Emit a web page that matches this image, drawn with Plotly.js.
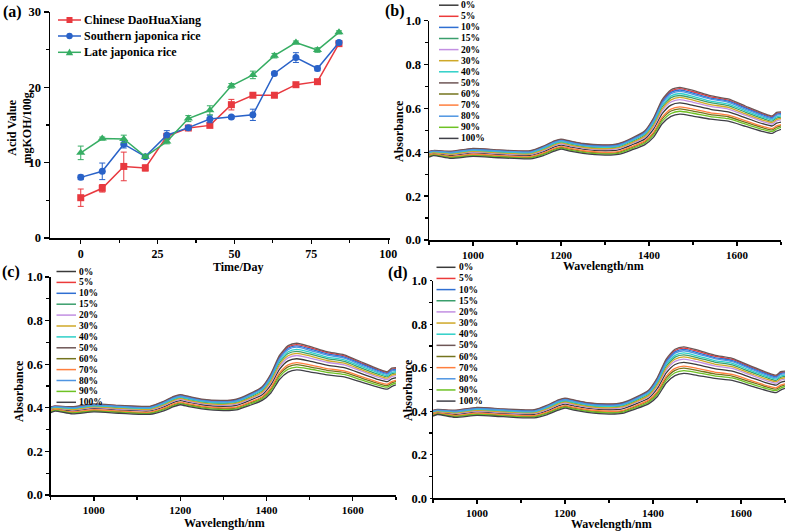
<!DOCTYPE html>
<html>
<head>
<meta charset="utf-8">
<script src="https://cdn.plot.ly/plotly-3.0.1.min.js"></script>
<style>html,body{margin:0;padding:0;background:#fff}#chart{width:788px;height:531px}</style>
</head>
<body>
<div id="chart"></div>
<script>
// ---------- Panel (a) data ----------
const days = [0, 7, 14, 21, 28, 35, 42, 49, 56, 63, 70, 77, 84];
const dhxAcid = [5.35, 6.6, 9.5, 9.3, 13.5, 14.6, 14.95, 17.7, 18.95, 18.95, 20.35, 20.75, 25.8];
const dhxErr = [1.15, 0.5, 1.9, 0.4, 0.3, 0.2, 0.2, 0.7, 0.2, 0.2, 0.2, 0.2, 0.2];
const southAcid = [8.05, 8.85, 12.45, 10.8, 13.65, 14.65, 15.8, 16.05, 16.35, 21.85, 23.95, 22.5, 25.95];
const southErr = [0.3, 1.1, 0.5, 0.2, 0.6, 0.2, 0.5, 0.2, 0.75, 0.2, 0.65, 0.3, 0.2];
const lateAcid = [11.3, 13.2, 13.15, 10.8, 12.8, 15.85, 16.95, 20.2, 21.65, 24.2, 25.95, 24.95, 27.3];
const lateErr = [0.9, 0.2, 0.5, 0.2, 0.3, 0.4, 0.6, 0.3, 0.5, 0.3, 0.2, 0.3, 0.2];
const riceNames = ['Chinese DaoHuaXiang', 'Southern japonica rice', 'Late japonica rice'];

// ---------- Spectra data (b, c, d) ----------
const wavelength = [900, 910, 950, 1000, 1060, 1130, 1160, 1185, 1200, 1220, 1250, 1300, 1330, 1360, 1390, 1410, 1430, 1450, 1470, 1500, 1540, 1580, 1620, 1660, 1680, 1690, 1700];
const abs0   = [.389, .395, .386, .397, .390, .386, .403, .425, .433, .425, .414, .407, .411, .433, .460, .505, .576, .615, .625, .614, .596, .584, .557, .529, .520, .533, .538];
const abs5   = [.403, .407, .403, .416, .409, .405, .426, .450, .458, .450, .438, .432, .437, .461, .494, .551, .634, .679, .690, .676, .653, .638, .605, .574, .562, .578, .580];
const abs10  = [.401, .406, .402, .414, .407, .403, .424, .447, .455, .447, .435, .429, .435, .459, .491, .546, .629, .673, .684, .670, .647, .633, .601, .570, .558, .573, .576];
const abs15  = [.396, .401, .395, .407, .400, .396, .415, .438, .446, .438, .426, .420, .425, .448, .478, .529, .607, .649, .659, .647, .626, .613, .582, .553, .542, .556, .560];
const abs20  = [.392, .397, .390, .401, .394, .390, .408, .430, .439, .430, .419, .412, .417, .439, .468, .515, .589, .629, .640, .628, .609, .597, .568, .539, .529, .543, .548];
const abs30  = [.394, .399, .392, .404, .397, .393, .412, .434, .443, .434, .423, .416, .421, .443, .473, .522, .598, .639, .650, .638, .617, .605, .575, .546, .536, .550, .554];
const abs40  = [.398, .403, .397, .409, .403, .398, .418, .441, .449, .441, .430, .423, .428, .452, .483, .535, .615, .657, .668, .655, .633, .620, .589, .559, .548, .562, .566];
const abs50  = [.404, .408, .405, .418, .411, .407, .428, .452, .460, .452, .440, .434, .440, .464, .497, .555, .640, .685, .696, .682, .658, .643, .610, .578, .566, .582, .584];
const abs60  = [.383, .390, .379, .388, .382, .377, .394, .414, .423, .414, .404, .396, .400, .421, .447, .485, .552, .588, .598, .588, .572, .562, .536, .511, .502, .514, .521];
const abs70  = [.385, .391, .381, .391, .385, .380, .397, .418, .426, .418, .407, .400, .403, .425, .451, .491, .560, .597, .607, .597, .580, .569, .543, .517, .508, .520, .526];
const abs80  = [.400, .405, .400, .412, .406, .401, .422, .445, .453, .445, .433, .427, .432, .456, .488, .542, .623, .667, .678, .664, .642, .628, .596, .565, .554, .569, .572];
const abs90  = [.381, .388, .376, .385, .379, .374, .390, .410, .419, .410, .400, .392, .395, .416, .441, .478, .542, .577, .587, .578, .563, .553, .528, .503, .495, .506, .514];
const abs100 = [.378, .385, .372, .381, .375, .370, .385, .405, .414, .405, .395, .387, .390, .410, .434, .468, .530, .564, .574, .565, .551, .542, .518, .494, .486, .497, .505];
const specNames = ['0%', '5%', '10%', '15%', '20%', '30%', '40%', '50%', '60%', '70%', '80%', '90%', '100%'];
const specSeries = [abs0, abs5, abs10, abs15, abs20, abs30, abs40, abs50, abs60, abs70, abs80, abs90, abs100];
const specColors = ['#3a3a3a', '#ec3a3a', '#2f6fd2', '#3a9e6c', '#c28fe2', '#cfa828', '#2fd0c8', '#6e5656', '#74741e', '#ff7f3e', '#4f95e2', '#6ec224', '#404048'];

// ---------- helpers ----------
const W = 788, H = 531;
const px = v => v / W;
const py = v => 1 - v / H;
const FONT = 'Liberation Serif, Times New Roman, serif';
const bf = (s) => ({family: FONT, size: s, color: '#000', weight: 'bold'});

const traces = [];
const riceColors = ['#e8393f', '#2962c8', '#36ad63'];
const riceSymbols = ['square', 'circle', 'triangle-up'];
const riceY = [dhxAcid, southAcid, lateAcid];
const riceE = [dhxErr, southErr, lateErr];
for (let i = 0; i < 3; i++) {
  traces.push({
    type: 'scatter', mode: 'lines+markers', x: days, y: riceY[i], name: riceNames[i],
    xaxis: 'x', yaxis: 'y', showlegend: false,
    line: {color: riceColors[i], width: 1.5},
    marker: {color: riceColors[i], symbol: riceSymbols[i], size: i === 2 ? 8 : 7},
    error_y: {type: 'data', array: riceE[i], visible: true, color: riceColors[i], thickness: 1, width: 3}
  });
}
const panels = [['x2', 'y2'], ['x3', 'y3'], ['x4', 'y4']];
panels.forEach(([xa, ya]) => {
  specSeries.forEach((s, i) => {
    traces.push({
      type: 'scatter', mode: 'lines', x: wavelength, y: s, name: specNames[i],
      xaxis: xa, yaxis: ya, showlegend: false,
      line: {color: specColors[i], width: 1.3, shape: 'spline', smoothing: 0.6}
    });
  });
});

const axBase = {
  showline: true, linecolor: '#000', linewidth: 1.5, ticks: 'outside', ticklen: 5, tickwidth: 1.3,
  tickcolor: '#000', showgrid: false, zeroline: false, mirror: false, fixedrange: true
};
function mk(extra, minorDtick, fs) {
  return Object.assign({}, axBase, {tickfont: bf(fs),
    minor: {ticks: 'outside', ticklen: 3, tickwidth: 1.2, tickcolor: '#000', dtick: minorDtick, showgrid: false}}, extra);
}
const specX = (d0, d1, anchor) => mk({domain: [d0, d1], range: [900, 1700], tick0: 0, dtick: 200, anchor: anchor, ticklen: 4}, 100, 11);
const specY = (d0, d1, anchor, tl) => mk({domain: [d0, d1], range: [0, 1.0], tick0: 0, dtick: 0.2, tickformat: '.1f', anchor: anchor, ticklen: tl}, 0.1, 12.5);

const layout = {
  width: W, height: H, margin: {l: 0, r: 0, t: 0, b: 0}, paper_bgcolor: '#fff', plot_bgcolor: 'rgba(0,0,0,0)',
  showlegend: false,
  xaxis: mk({domain: [px(50), px(390)], range: [-10, 100.6], tick0: 0, dtick: 25, anchor: 'y', ticklen: 4}, 12.5, 12),
  yaxis: mk({domain: [py(238), py(12)], range: [0, 30], tick0: 0, dtick: 10, anchor: 'x'}, 5, 12.5),
  xaxis2: specX(px(429), px(781), 'y2'),
  yaxis2: specY(py(240), py(20.7), 'x2', 4),
  xaxis3: specX(px(50.7), px(396), 'y3'),
  yaxis3: specY(py(495), py(277), 'x3', 4),
  xaxis4: specX(px(433), px(785), 'y4'),
  yaxis4: specY(py(498.3), py(280.7), 'x4', 2),
  shapes: [], annotations: []
};

function ann(text, x, y, opts) {
  layout.annotations.push(Object.assign({text: text, x: px(x), y: py(y), xref: 'paper', yref: 'paper',
    showarrow: false, xanchor: 'center', yanchor: 'middle', font: bf(12)}, opts || {}));
}
// panel labels
ann('(a)', 1, 12, {xanchor: 'left', font: bf(16)});
ann('(b)', 383, 11, {xanchor: 'left', font: bf(16)});
ann('(c)', 0, 272, {xanchor: 'left', font: bf(16)});
ann('(d)', 386, 273, {xanchor: 'left', font: bf(16)});
// axis titles
ann('Time/Day', 238, 266.5);
ann('Acid Value<br>mgKOH/100g', 19.5, 128, {textangle: -90});
ann('Wavelength/nm', 603, 266);
ann('Absorbance', 399, 131, {textangle: -90});
ann('Wavelength/nm', 224, 522.5);
ann('Absorbance', 19, 391, {textangle: -90});
ann('Wavelength/nm', 611, 524);
ann('Absorbance', 408, 390, {textangle: -90});

// panel (a) legend
const legA = [20, 36, 52.3];
riceNames.forEach((n, i) => {
  const y = legA[i];
  layout.shapes.push({type: 'line', xref: 'paper', yref: 'paper', x0: px(58), x1: px(81), y0: py(y), y1: py(y),
    line: {color: riceColors[i], width: 1.5}});
  if (i === 0) {
    layout.shapes.push({type: 'rect', xref: 'paper', yref: 'paper', x0: px(66.5), x1: px(72.5), y0: py(y + 3), y1: py(y - 3),
      fillcolor: riceColors[i], line: {width: 0}});
  } else if (i === 1) {
    layout.shapes.push({type: 'circle', xref: 'paper', yref: 'paper', x0: px(66.3), x1: px(72.7), y0: py(y + 3.2), y1: py(y - 3.2),
      fillcolor: riceColors[i], line: {width: 0}});
  } else {
    layout.shapes.push({type: 'path', xref: 'paper', yref: 'paper',
      path: `M ${px(65.8)},${py(y + 3)} L ${px(73.2)},${py(y + 3)} L ${px(69.5)},${py(y - 3.8)} Z`,
      fillcolor: riceColors[i], line: {width: 0}});
  }
  ann(n, 81.5, y, {xanchor: 'left', font: bf(12)});
});

// spectra legends
const legs = [
  {lx0: 439, lx1: 458.5, tx: 459.5, y0: 5.2, dy: 11.1},
  {lx0: 56.5, lx1: 76, tx: 77, y0: 271.5, dy: 10.9},
  {lx0: 436.5, lx1: 455.5, tx: 456.5, y0: 267.3, dy: 11.15}
];
legs.forEach(L => {
  specNames.forEach((n, i) => {
    const y = L.y0 + i * L.dy;
    layout.shapes.push({type: 'line', xref: 'paper', yref: 'paper', x0: px(L.lx0), x1: px(L.lx1), y0: py(y), y1: py(y),
      line: {color: specColors[i], width: 1.5}});
    ann(n, L.tx, y, {xanchor: 'left', font: bf(9.5)});
  });
});

Plotly.newPlot('chart', traces, layout, {staticPlot: true, displayModeBar: false});
</script>
</body>
</html>
